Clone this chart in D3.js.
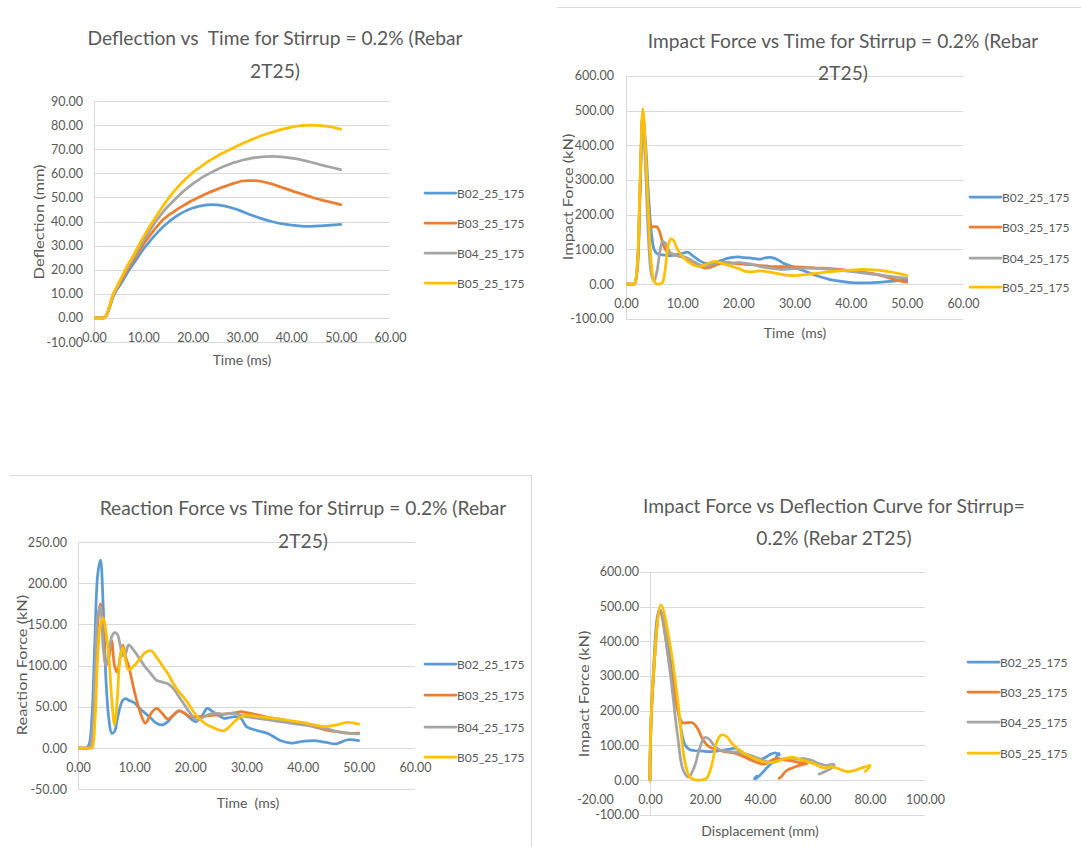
<!DOCTYPE html>
<html>
<head>
<meta charset="utf-8">
<script src="https://cdn.jsdelivr.net/npm/d3@7"></script>
<style>
  html, body { margin: 0; padding: 0; background: #ffffff; }
  svg text { font-family: Lato, "Open Sans", "Liberation Sans", sans-serif; fill: #595959; white-space: pre; }
  .title { font-size: 19.2px; }
  .axis text { font-size: 12.5px; }
  .axis-title { font-size: 14px; }
  .legend text { font-size: 12px; }
</style>
</head>
<body>
<svg id="chart" width="1081" height="847"></svg>
<script>
// ---- series ----
const seriesNames = ["B02_25_175", "B03_25_175", "B04_25_175", "B05_25_175"];
const seriesColors = ["#5B9BD5", "#ED7D31", "#A5A5A5", "#FFC000"];

// sampling times (ms), shared by every recorded series
const timeMs = [0,1,1.5,2,2.5,3,3.5,4,4.5,5, 5.5,6,6.5,7,7.5,8,8.5,9,
  10,11,12,13,14,15,16,17,18,19,20, 21,22,23,24,25,26,27,28,29,30,
  32,34,36,38,40,42,44,46,48,50];

// mid-span deflection (mm)
const deflB02 = [0,0,0,0,1,3.4,6.5,9.3,11.2,12.8, 14.4,16,17.8,19.5,21,22.5,24,25.5,
  28.5,31,33.5,35.7,37.8,39.6,41.2,42.6,43.8,44.8,45.6, 46.2,46.6,46.9,47,46.9,46.6,46.2,45.6,45,44.2,
  42.6,41.2,40,39.1,38.5,38.1,38,38.2,38.5,38.8];
const deflB03 = [0,0,0,0,1,3.6,6.8,9.8,11.8,13.5, 15.4,17.2,19,20.8,22.4,24,25.6,27.2,
  30.5,33.3,36,38.5,40.8,42.4,43.8,45.2,46.5,47.7,48.8, 49.8,50.8,51.7,52.6,53.4,54.2,54.9,55.6,56.2,56.8,
  57,56.6,55.6,54.2,52.8,51.5,50.2,49,48,47];
const deflB04 = [0,0,0,0,1,3.8,7,10,12,14, 16,18,19.8,21.5,23.2,25,26.8,28.5,
  32,35.3,38.5,41.3,44,46.3,48.3,50.4,52.3,54,55.6, 57,58.4,59.5,60.6,61.6,62.6,63.4,64.2,64.8,65.4,
  66.3,66.8,67,66.8,66.3,65.6,64.6,63.5,62.5,61.5];
const deflB05 = [0,0,0,0,1.2,4,7.5,10.5,12.5,14.5, 16.5,18.5,20.5,22.5,24.3,26,27.9,29.8,
  33.5,37,40.2,43.4,46.5,49.3,52,54.3,56.5,58.5,60.3, 61.8,63.3,64.7,66,67.2,68.3,69.3,70.3,71.3,72.3,
  74,75.7,77,78.2,79.2,79.8,80,79.8,79.3,78.3];

// impact force (kN)
const impactB02 = [0,0,0,50,280,490,400,260,150,100, 88,85,84,83,82,82,83,85,
  88,92,80,68,60,58,62,68,74,77,78, 76,75,73,72,76,76,70,60,54,48,
  36,24,14,8,4,3,4,6,9,11];
const impactB03 = [0,0,0,40,260,485,350,210,165,165, 165,150,120,100,92,88,85,82,
  78,70,60,52,46,48,55,60,62,60,58, 57,56,55,53,52,50,50,50,49,49,
  48,46,45,42,38,34,30,22,12,5];
const impactB04 = [0,0,0,45,270,490,330,130,30,8, 35,90,122,118,100,88,84,82,
  80,74,65,56,50,54,60,63,62,60,62, 60,58,54,50,47,45,43,42,43,44,
  46,45,43,40,36,32,28,24,20,17];
const impactB05 = [0,0,0,55,300,505,380,200,60,8, 0,0,4,45,110,130,125,105,
  80,65,55,50,55,62,65,60,55,50,45, 38,35,36,38,36,33,30,27,25,24,
  27,31,35,38,40,42,41,38,32,25];

// support reaction force (kN)
const reactB02 = [0,0,0,5,40,130,210,228,170,80, 35,18,20,35,50,58,60,58,
  55,48,42,36,30,28,32,40,45,42,36, 32,38,48,44,40,36,37,38,36,26,
  21,17,9,6,8,9,7,5,10,9];
const reactB03 = [0,0,0,0,10,80,150,175,140,100, 110,130,100,92,110,125,110,100,
  70,45,30,42,48,42,35,40,45,42,38, 38,38,39,40,40,41,42,43,44,43,
  40,37,35,32,30,26,22,20,18,18];
const reactB04 = [0,0,0,0,15,90,160,172,120,100, 115,135,140,138,125,112,115,125,
  118,108,98,90,82,80,78,72,62,52,42, 34,36,40,42,42,41,42,42,40,38,
  36,34,32,30,28,26,24,20,18,17];
const reactB05 = [0,0,0,0,0,30,110,150,158,140, 110,60,28,60,110,122,105,95,
  100,108,116,118,110,100,90,78,68,60,50, 40,33,28,25,22,21,26,33,38,40,
  38,37,35,33,31,28,26,28,31,29];

// ---- tick values ----
const timeTicks = [0, 10, 20, 30, 40, 50, 60];
const deflTicks = [-10, 0, 10, 20, 30, 40, 50, 60, 70, 80, 90];
const impactTicks = [-100, 0, 100, 200, 300, 400, 500, 600];
const reactTicks = [-50, 0, 50, 100, 150, 200, 250];
const dispTicks = [-20, 0, 20, 40, 60, 80, 100];

const deflSeries = [deflB02, deflB03, deflB04, deflB05];
const impactSeries = [impactB02, impactB03, impactB04, impactB05];
const reactSeries = [reactB02, reactB03, reactB04, reactB05];

const pairUp = (xs, ys) => xs.map((v, i) => [v, ys[i]]);

// ---- panel layout ----
const panels = [
  {
    title: ["Deflection vs  Time for Stirrup = 0.2% (Rebar", "2T25)"],
    titleX: 275, titleY: [37, 70],
    xDomain: [0, 60], xRange: [94, 390], xTicks: timeTicks,
    yDomain: [-10, 90], yRange: [342, 101], yTicks: deflTicks,
    gridLeft: 94, yPad: 11,
    xTitle: "Time (ms)", xTitlePos: [242, 359],
    yTitle: "Deflection (mm)", yTitlePos: [38, 222],
    legendX: 425, legendY: [193, 223, 253, 283],
    data: deflSeries.map(s => pairUp(timeMs, s))
  },
  {
    title: ["Impact Force vs Time for Stirrup = 0.2% (Rebar", "2T25)"],
    titleX: 843, titleY: [40, 72],
    xDomain: [0, 60], xRange: [626, 963], xTicks: timeTicks,
    yDomain: [-100, 600], yRange: [318.7, 75.8], yTicks: impactTicks,
    gridLeft: 626, yPad: 12,
    xTitle: "Time  (ms)", xTitlePos: [795, 332],
    yTitle: "Impact Force (kN)", yTitlePos: [567, 197],
    legendX: 970, legendY: [197, 227, 258, 287],
    data: impactSeries.map(s => pairUp(timeMs, s))
  },
  {
    title: ["Reaction Force vs Time for Stirrup = 0.2% (Rebar", "2T25)"],
    titleX: 303, titleY: [507, 540],
    xDomain: [0, 60], xRange: [78, 415], xTicks: timeTicks,
    yDomain: [-50, 250], yRange: [789.2, 542], yTicks: reactTicks,
    gridLeft: 78, yPad: 11,
    xTitle: "Time  (ms)", xTitlePos: [248, 802],
    yTitle: "Reaction Force (kN)", yTitlePos: [21, 665],
    legendX: 425, legendY: [664, 695, 727, 757],
    data: reactSeries.map(s => pairUp(timeMs, s))
  },
  {
    title: ["Impact Force vs Deflection Curve for Stirrup=", "0.2% (Rebar 2T25)"],
    titleX: 834, titleY: [505, 537],
    xDomain: [-20, 100], xRange: [595, 925], xTicks: dispTicks,
    yDomain: [-100, 600], yRange: [814.7, 571.8], yTicks: impactTicks,
    gridLeft: 640, yPad: 11,
    xTitle: "Displacement (mm)", xTitlePos: [760, 830],
    yTitle: "Impact Force (kN)", yTitlePos: [583, 694],
    legendX: 968, legendY: [662, 692, 722, 753],
    data: deflSeries.map((s, k) => pairUp(s, impactSeries[k]))
  }
];

const svg = d3.select("#chart");
const gridColor = "#D9D9D9";

// chart frames
const frames = svg.append("g").attr("stroke", gridColor).attr("stroke-width", 1);
frames.append("line").attr("x1", 557).attr("x2", 1081).attr("y1", 7.5).attr("y2", 7.5);
frames.append("line").attr("x1", 10).attr("x2", 531.5).attr("y1", 475.5).attr("y2", 475.5);
frames.append("line").attr("x1", 531.5).attr("x2", 531.5).attr("y1", 475.5).attr("y2", 847);

const fmt = d => d.toFixed(2);

panels.forEach((p, pi) => {
  const g = svg.append("g");
  const x = d3.scaleLinear().domain(p.xDomain).range(p.xRange);
  const y = d3.scaleLinear().domain(p.yDomain).range(p.yRange);

  // horizontal gridlines
  g.append("g").selectAll("line").data(p.yTicks).join("line")
    .attr("x1", p.gridLeft).attr("x2", p.xRange[1])
    .attr("y1", d => Math.round(y(d)) + 0.5).attr("y2", d => Math.round(y(d)) + 0.5)
    .attr("stroke", gridColor).attr("stroke-width", 1);

  // vertical axis line through x = 0
  g.append("line")
    .attr("x1", Math.round(x(0)) + 0.5).attr("x2", Math.round(x(0)) + 0.5)
    .attr("y1", y(p.yDomain[1])).attr("y2", y(p.yDomain[0]))
    .attr("stroke", gridColor).attr("stroke-width", 1);

  // value axis
  const ya = g.append("g").attr("class", "axis")
    .attr("transform", `translate(${x(0)},0)`)
    .call(d3.axisLeft(y).tickValues(p.yTicks).tickFormat(fmt).tickSize(0).tickPadding(p.yPad));
  ya.select(".domain").remove();
  ya.attr("font-family", null).attr("font-size", null);

  // time / displacement axis, labels just below the zero line
  const xa = g.append("g").attr("class", "axis")
    .attr("transform", `translate(0,${y(0)})`)
    .call(d3.axisBottom(x).tickValues(p.xTicks).tickFormat(fmt).tickSize(0).tickPadding(15.5));
  xa.select(".domain").remove();
  xa.attr("font-family", null).attr("font-size", null);

  // clip to plot area
  const clipId = "clip" + pi;
  svg.append("clipPath").attr("id", clipId).append("rect")
    .attr("x", p.xRange[0]).attr("y", p.yRange[1])
    .attr("width", p.xRange[1] - p.xRange[0]).attr("height", p.yRange[0] - p.yRange[1]);

  const line = d3.line()
    .x(d => x(d[0])).y(d => y(d[1]))
    .curve(d3.curveCatmullRom.alpha(0.5));

  g.append("g").attr("clip-path", `url(#${clipId})`)
    .selectAll("path").data(p.data).join("path")
    .attr("d", line)
    .attr("fill", "none")
    .attr("stroke", (d, i) => seriesColors[i])
    .attr("stroke-width", 2.75)
    .attr("stroke-linejoin", "round")
    .attr("stroke-linecap", "round");

  // title
  g.append("g").selectAll("text").data(p.title).join("text")
    .attr("class", "title")
    .attr("x", p.titleX).attr("y", (d, i) => p.titleY[i])
    .attr("text-anchor", "middle").attr("dominant-baseline", "central")
    .text(d => d);

  // axis titles (vertical one drawn slightly elongated)
  g.append("text").attr("class", "axis-title")
    .attr("x", p.xTitlePos[0]).attr("y", p.xTitlePos[1])
    .attr("text-anchor", "middle").attr("dominant-baseline", "central")
    .text(p.xTitle);
  g.append("text").attr("class", "axis-title")
    .attr("transform", `translate(${p.yTitlePos[0]},${p.yTitlePos[1]}) rotate(-90) scale(1.17,1)`)
    .attr("text-anchor", "middle").attr("dominant-baseline", "central")
    .text(p.yTitle);

  // legend
  const lg = g.append("g").attr("class", "legend");
  const items = lg.selectAll("g").data(seriesNames).join("g")
    .attr("transform", (d, i) => `translate(${p.legendX},${p.legendY[i]})`);
  items.append("line").attr("x1", 0).attr("x2", 31).attr("y1", 0).attr("y2", 0)
    .attr("stroke", (d, i) => seriesColors[i]).attr("stroke-width", 2.75)
    .attr("stroke-linecap", "round");
  items.append("text").attr("x", 32).attr("y", 0)
    .attr("dominant-baseline", "central").text(d => d);
});
</script>
</body>
</html>
